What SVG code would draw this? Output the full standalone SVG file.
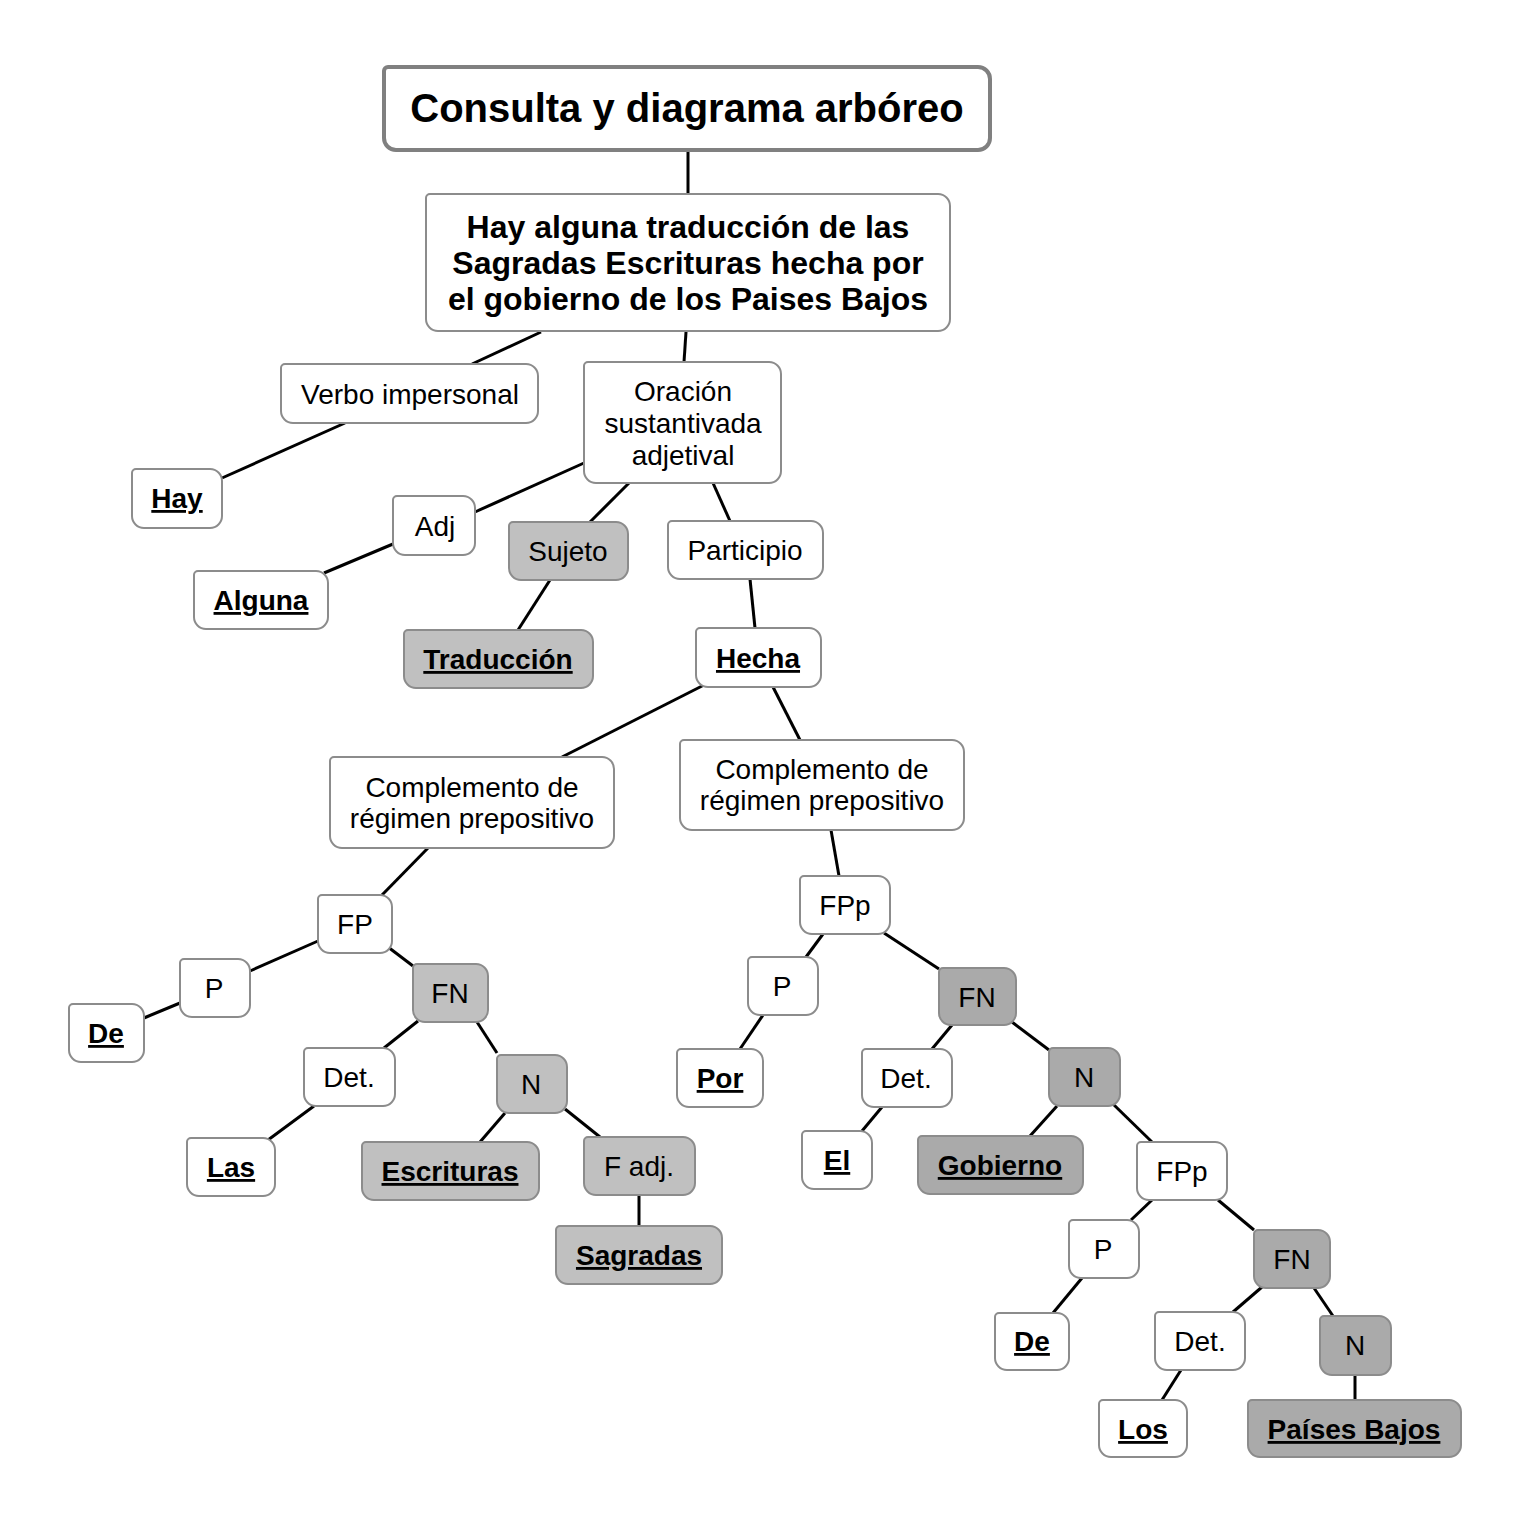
<svg xmlns="http://www.w3.org/2000/svg" width="1530" height="1527" viewBox="0 0 1530 1527">
<style>
.n{fill:#fff;stroke:#8c8c8c;stroke-width:2}
.g1{fill:#c0c0c0}
.g2{fill:#aaaaaa}
.t{font-family:"Liberation Sans",Arial,sans-serif;font-size:28px;fill:#000;text-anchor:middle}
.b{font-weight:bold;text-decoration:underline}
#edges line{stroke:#000;stroke-width:3}
</style>
<rect width="1530" height="1527" fill="#fff"/>
<g id="edges">
<line x1="688" y1="150" x2="688" y2="194"/>
<line x1="541" y1="332" x2="472" y2="364"/>
<line x1="345" y1="423" x2="222" y2="478"/>
<line x1="686" y1="332" x2="684" y2="362"/>
<line x1="584" y1="463" x2="475" y2="512"/>
<line x1="393" y1="544" x2="324" y2="573"/>
<line x1="629" y1="483" x2="590" y2="522"/>
<line x1="550" y1="580" x2="518" y2="630"/>
<line x1="713" y1="483" x2="730" y2="521"/>
<line x1="750" y1="579" x2="755" y2="628"/>
<line x1="704" y1="685" x2="562" y2="757"/>
<line x1="773" y1="687" x2="800" y2="740"/>
<line x1="428" y1="848" x2="382" y2="895"/>
<line x1="318" y1="941" x2="250" y2="971"/>
<line x1="180" y1="1003" x2="144" y2="1018"/>
<line x1="388" y1="947" x2="413" y2="966"/>
<line x1="418" y1="1021" x2="384" y2="1048"/>
<line x1="314" y1="1106" x2="268" y2="1140"/>
<line x1="477" y1="1022" x2="497" y2="1053"/>
<line x1="505" y1="1113" x2="480" y2="1142"/>
<line x1="565" y1="1109" x2="600" y2="1137"/>
<line x1="639" y1="1195" x2="639" y2="1226"/>
<line x1="831" y1="830" x2="839" y2="876"/>
<line x1="823" y1="934" x2="806" y2="957"/>
<line x1="763" y1="1015" x2="740" y2="1049"/>
<line x1="884" y1="933" x2="939" y2="969"/>
<line x1="952" y1="1025" x2="932" y2="1049"/>
<line x1="882" y1="1107" x2="862" y2="1131"/>
<line x1="1012" y1="1022" x2="1049" y2="1050"/>
<line x1="1057" y1="1106" x2="1030" y2="1136"/>
<line x1="1113" y1="1104" x2="1152" y2="1142"/>
<line x1="1152" y1="1200" x2="1131" y2="1220"/>
<line x1="1082" y1="1278" x2="1053" y2="1313"/>
<line x1="1218" y1="1200" x2="1254" y2="1230"/>
<line x1="1262" y1="1287" x2="1233" y2="1312"/>
<line x1="1181" y1="1370" x2="1162" y2="1400"/>
<line x1="1314" y1="1288" x2="1333" y2="1316"/>
<line x1="1355" y1="1375" x2="1355" y2="1400"/>
</g>
<g id="title"><path class="n" style="stroke:#808080;stroke-width:4" d="M388,67 H978 A12 12 0 0 1 990,79 V138 A12 12 0 0 1 978,150 H396 A12 12 0 0 1 384,138 V71 A4 4 0 0 1 388,67Z"/><text class="t" x="687" y="122" style="font-size:40px;font-weight:bold">Consulta y diagrama arbóreo</text></g>
<g id="main"><path class="n" d="M430,194 H938 A12 12 0 0 1 950,206 V319 A12 12 0 0 1 938,331 H438 A12 12 0 0 1 426,319 V198 A4 4 0 0 1 430,194Z"/><text class="t" style="font-size:32px;font-weight:bold"><tspan x="688" y="238">Hay alguna traducción de las</tspan><tspan x="688" y="274">Sagradas Escrituras hecha por</tspan><tspan x="688" y="310">el gobierno de los Paises Bajos</tspan></text></g>
<g id="verbo"><path class="n" d="M285,364 H526 A12 12 0 0 1 538,376 V411 A12 12 0 0 1 526,423 H293 A12 12 0 0 1 281,411 V368 A4 4 0 0 1 285,364Z"/><text class="t" x="410" y="404">Verbo impersonal</text></g>
<g id="oracion"><path class="n" d="M588,362 H769 A12 12 0 0 1 781,374 V471 A12 12 0 0 1 769,483 H596 A12 12 0 0 1 584,471 V366 A4 4 0 0 1 588,362Z"/><text class="t"><tspan x="683" y="401">Oración</tspan><tspan x="683" y="433">sustantivada</tspan><tspan x="683" y="465">adjetival</tspan></text></g>
<g id="hay"><path class="n" d="M136,469 H210 A12 12 0 0 1 222,481 V516 A12 12 0 0 1 210,528 H144 A12 12 0 0 1 132,516 V473 A4 4 0 0 1 136,469Z"/><text class="t b" x="177" y="508">Hay</text></g>
<g id="adj"><path class="n" d="M397,496 H463 A12 12 0 0 1 475,508 V543 A12 12 0 0 1 463,555 H405 A12 12 0 0 1 393,543 V500 A4 4 0 0 1 397,496Z"/><text class="t" x="435" y="536">Adj</text></g>
<g id="alguna"><path class="n" d="M198,571 H316 A12 12 0 0 1 328,583 V617 A12 12 0 0 1 316,629 H206 A12 12 0 0 1 194,617 V575 A4 4 0 0 1 198,571Z"/><text class="t b" x="261" y="610">Alguna</text></g>
<g id="sujeto"><path class="n g1" d="M513,522 H616 A12 12 0 0 1 628,534 V568 A12 12 0 0 1 616,580 H521 A12 12 0 0 1 509,568 V526 A4 4 0 0 1 513,522Z"/><text class="t" x="568" y="561">Sujeto</text></g>
<g id="participio"><path class="n" d="M672,521 H811 A12 12 0 0 1 823,533 V567 A12 12 0 0 1 811,579 H680 A12 12 0 0 1 668,567 V525 A4 4 0 0 1 672,521Z"/><text class="t" x="745" y="560">Participio</text></g>
<g id="traduccion"><path class="n g1" d="M408,630 H581 A12 12 0 0 1 593,642 V676 A12 12 0 0 1 581,688 H416 A12 12 0 0 1 404,676 V634 A4 4 0 0 1 408,630Z"/><text class="t b" x="498" y="669">Traducción</text></g>
<g id="hecha"><path class="n" d="M700,628 H809 A12 12 0 0 1 821,640 V675 A12 12 0 0 1 809,687 H708 A12 12 0 0 1 696,675 V632 A4 4 0 0 1 700,628Z"/><text class="t b" x="758" y="668">Hecha</text></g>
<g id="compL"><path class="n" d="M334,757 H602 A12 12 0 0 1 614,769 V836 A12 12 0 0 1 602,848 H342 A12 12 0 0 1 330,836 V761 A4 4 0 0 1 334,757Z"/><text class="t"><tspan x="472" y="797">Complemento de</tspan><tspan x="472" y="828">régimen prepositivo</tspan></text></g>
<g id="compR"><path class="n" d="M684,740 H952 A12 12 0 0 1 964,752 V818 A12 12 0 0 1 952,830 H692 A12 12 0 0 1 680,818 V744 A4 4 0 0 1 684,740Z"/><text class="t"><tspan x="822" y="779">Complemento de</tspan><tspan x="822" y="810">régimen prepositivo</tspan></text></g>
<g id="fp"><path class="n" d="M322,895 H380 A12 12 0 0 1 392,907 V941 A12 12 0 0 1 380,953 H330 A12 12 0 0 1 318,941 V899 A4 4 0 0 1 322,895Z"/><text class="t" x="355" y="934">FP</text></g>
<g id="pL"><path class="n" d="M184,959 H238 A12 12 0 0 1 250,971 V1005 A12 12 0 0 1 238,1017 H192 A12 12 0 0 1 180,1005 V963 A4 4 0 0 1 184,959Z"/><text class="t" x="214" y="998">P</text></g>
<g id="deL"><path class="n" d="M73,1004 H132 A12 12 0 0 1 144,1016 V1050 A12 12 0 0 1 132,1062 H81 A12 12 0 0 1 69,1050 V1008 A4 4 0 0 1 73,1004Z"/><text class="t b" x="106" y="1043">De</text></g>
<g id="fnL"><path class="n g1" d="M417,964 H476 A12 12 0 0 1 488,976 V1010 A12 12 0 0 1 476,1022 H425 A12 12 0 0 1 413,1010 V968 A4 4 0 0 1 417,964Z"/><text class="t" x="450" y="1003">FN</text></g>
<g id="detL"><path class="n" d="M308,1048 H383 A12 12 0 0 1 395,1060 V1094 A12 12 0 0 1 383,1106 H316 A12 12 0 0 1 304,1094 V1052 A4 4 0 0 1 308,1048Z"/><text class="t" x="349" y="1087">Det.</text></g>
<g id="nL"><path class="n g1" d="M501,1055 H555 A12 12 0 0 1 567,1067 V1101 A12 12 0 0 1 555,1113 H509 A12 12 0 0 1 497,1101 V1059 A4 4 0 0 1 501,1055Z"/><text class="t" x="531" y="1094">N</text></g>
<g id="las"><path class="n" d="M191,1138 H263 A12 12 0 0 1 275,1150 V1184 A12 12 0 0 1 263,1196 H199 A12 12 0 0 1 187,1184 V1142 A4 4 0 0 1 191,1138Z"/><text class="t b" x="231" y="1177">Las</text></g>
<g id="escrituras"><path class="n g1" d="M366,1142 H527 A12 12 0 0 1 539,1154 V1188 A12 12 0 0 1 527,1200 H374 A12 12 0 0 1 362,1188 V1146 A4 4 0 0 1 366,1142Z"/><text class="t b" x="450" y="1181">Escrituras</text></g>
<g id="fadj"><path class="n g1" d="M588,1137 H683 A12 12 0 0 1 695,1149 V1183 A12 12 0 0 1 683,1195 H596 A12 12 0 0 1 584,1183 V1141 A4 4 0 0 1 588,1137Z"/><text class="t" x="639" y="1176">F adj.</text></g>
<g id="sagradas"><path class="n g1" d="M560,1226 H710 A12 12 0 0 1 722,1238 V1272 A12 12 0 0 1 710,1284 H568 A12 12 0 0 1 556,1272 V1230 A4 4 0 0 1 560,1226Z"/><text class="t b" x="639" y="1265">Sagradas</text></g>
<g id="fppR"><path class="n" d="M804,876 H878 A12 12 0 0 1 890,888 V922 A12 12 0 0 1 878,934 H812 A12 12 0 0 1 800,922 V880 A4 4 0 0 1 804,876Z"/><text class="t" x="845" y="915">FPp</text></g>
<g id="pR"><path class="n" d="M752,957 H806 A12 12 0 0 1 818,969 V1003 A12 12 0 0 1 806,1015 H760 A12 12 0 0 1 748,1003 V961 A4 4 0 0 1 752,957Z"/><text class="t" x="782" y="996">P</text></g>
<g id="fnR"><path class="n g2" d="M943,968 H1004 A12 12 0 0 1 1016,980 V1013 A12 12 0 0 1 1004,1025 H951 A12 12 0 0 1 939,1013 V972 A4 4 0 0 1 943,968Z"/><text class="t" x="977" y="1007">FN</text></g>
<g id="por"><path class="n" d="M681,1049 H751 A12 12 0 0 1 763,1061 V1095 A12 12 0 0 1 751,1107 H689 A12 12 0 0 1 677,1095 V1053 A4 4 0 0 1 681,1049Z"/><text class="t b" x="720" y="1088">Por</text></g>
<g id="detR"><path class="n" d="M866,1049 H940 A12 12 0 0 1 952,1061 V1095 A12 12 0 0 1 940,1107 H874 A12 12 0 0 1 862,1095 V1053 A4 4 0 0 1 866,1049Z"/><text class="t" x="906" y="1088">Det.</text></g>
<g id="nR"><path class="n g2" d="M1053,1048 H1108 A12 12 0 0 1 1120,1060 V1094 A12 12 0 0 1 1108,1106 H1061 A12 12 0 0 1 1049,1094 V1052 A4 4 0 0 1 1053,1048Z"/><text class="t" x="1084" y="1087">N</text></g>
<g id="el"><path class="n" d="M806,1131 H860 A12 12 0 0 1 872,1143 V1177 A12 12 0 0 1 860,1189 H814 A12 12 0 0 1 802,1177 V1135 A4 4 0 0 1 806,1131Z"/><text class="t b" x="837" y="1170">El</text></g>
<g id="gobierno"><path class="n g2" d="M922,1136 H1071 A12 12 0 0 1 1083,1148 V1182 A12 12 0 0 1 1071,1194 H930 A12 12 0 0 1 918,1182 V1140 A4 4 0 0 1 922,1136Z"/><text class="t b" x="1000" y="1175">Gobierno</text></g>
<g id="fpp2"><path class="n" d="M1141,1142 H1215 A12 12 0 0 1 1227,1154 V1188 A12 12 0 0 1 1215,1200 H1149 A12 12 0 0 1 1137,1188 V1146 A4 4 0 0 1 1141,1142Z"/><text class="t" x="1182" y="1181">FPp</text></g>
<g id="p2"><path class="n" d="M1073,1220 H1127 A12 12 0 0 1 1139,1232 V1266 A12 12 0 0 1 1127,1278 H1081 A12 12 0 0 1 1069,1266 V1224 A4 4 0 0 1 1073,1220Z"/><text class="t" x="1103" y="1259">P</text></g>
<g id="fn2"><path class="n g2" d="M1258,1230 H1318 A12 12 0 0 1 1330,1242 V1276 A12 12 0 0 1 1318,1288 H1266 A12 12 0 0 1 1254,1276 V1234 A4 4 0 0 1 1258,1230Z"/><text class="t" x="1292" y="1269">FN</text></g>
<g id="de2"><path class="n" d="M999,1313 H1057 A12 12 0 0 1 1069,1325 V1358 A12 12 0 0 1 1057,1370 H1007 A12 12 0 0 1 995,1358 V1317 A4 4 0 0 1 999,1313Z"/><text class="t b" x="1032" y="1351">De</text></g>
<g id="det2"><path class="n" d="M1159,1312 H1233 A12 12 0 0 1 1245,1324 V1358 A12 12 0 0 1 1233,1370 H1167 A12 12 0 0 1 1155,1358 V1316 A4 4 0 0 1 1159,1312Z"/><text class="t" x="1200" y="1351">Det.</text></g>
<g id="n2"><path class="n g2" d="M1324,1316 H1379 A12 12 0 0 1 1391,1328 V1363 A12 12 0 0 1 1379,1375 H1332 A12 12 0 0 1 1320,1363 V1320 A4 4 0 0 1 1324,1316Z"/><text class="t" x="1355" y="1355">N</text></g>
<g id="los"><path class="n" d="M1103,1400 H1175 A12 12 0 0 1 1187,1412 V1445 A12 12 0 0 1 1175,1457 H1111 A12 12 0 0 1 1099,1445 V1404 A4 4 0 0 1 1103,1400Z"/><text class="t b" x="1143" y="1439">Los</text></g>
<g id="pb"><path class="n g2" d="M1252,1400 H1449 A12 12 0 0 1 1461,1412 V1445 A12 12 0 0 1 1449,1457 H1260 A12 12 0 0 1 1248,1445 V1404 A4 4 0 0 1 1252,1400Z"/><text class="t b" x="1354" y="1439">Países Bajos</text></g>
</svg>
